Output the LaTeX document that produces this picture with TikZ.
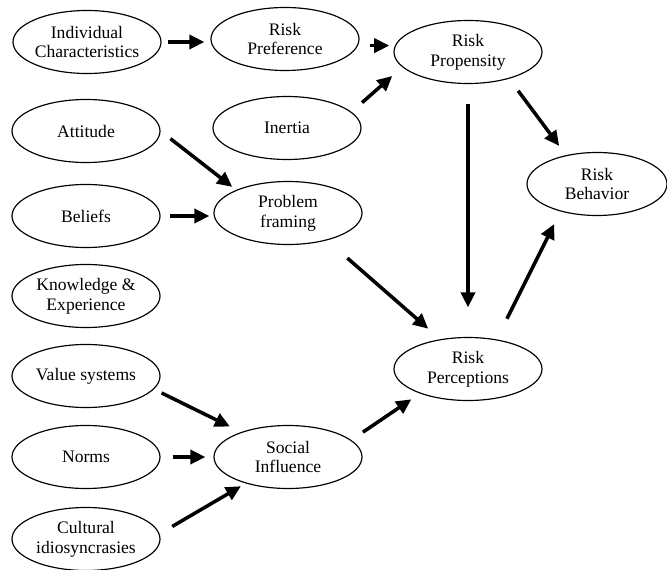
\documentclass[tikz,border=0pt]{standalone}
\usepackage{fontspec}
\setmainfont{Liberation Serif}
\usetikzlibrary{shapes.geometric, arrows.meta}

\begin{document}
\begin{tikzpicture}[x=0.03cm, y=-0.03cm,
        factor/.style={draw, ellipse, line width=1pt, minimum width=4.44cm, minimum height=1.89cm, inner sep=0pt, align=center, font=\fontsize{15}{17}\selectfont},
        link/.style={line width=3pt, -{Triangle[length=0.45cm, width=0.42cm]}}
    ]
        \useasboundingbox (0,0) rectangle (667,570);

        % Left column
        \node[factor] (ic) at (87,42) {Individual\\Characteristics};
        \node[factor] (att) at (86,131) {Attitude};
        \node[factor] (bel) at (86,216) {Beliefs};
        \node[factor] (ke) at (86,296) {Knowledge \&\\Experience};
        \node[factor] (vs) at (86,376) {Value systems};
        \node[factor] (norms) at (86,457) {Norms};
        \node[factor] (ci) at (86,539) {Cultural\\idiosyncrasies};

        % Middle column
        \node[factor] (rpref) at (285,39) {Risk\\Preference};
        \node[factor] (inertia) at (287,128) {Inertia};
        \node[factor] (pf) at (288,213) {Problem\\framing};
        \node[factor] (si) at (288,457) {Social\\Influence};

        % Right side
        \node[factor] (rprop) at (468,52) {Risk\\Propensity};
        \node[factor] (rperc) at (468,369) {Risk\\Perceptions};
        \node[factor, minimum width=4.2cm] (rbeh) at (597,184) {Risk\\Behavior};

        % Links
        \draw[link, shorten <=0.18cm, shorten >=0.18cm] (ic.east) -- (ic.east -| rpref.west);
        \draw[link, shorten <=0.3cm, shorten >=0.17cm] (rpref.east |- rprop.175) -- (rprop.175);
        \draw[link, shorten <=0.42cm, shorten >=0.4cm] (inertia.14) -- (rprop.193);
        \draw[link, shorten <=0.375cm, shorten >=0.15cm] (att.east) -- (pf.156);
        \draw[link, shorten <=0.27cm, shorten >=0.12cm] (bel.east) -- (bel.east -| pf.west);
        \draw[link, shorten <=0.81cm, shorten >=0.48cm] (pf.-35) -- (rperc.133);
        \draw[link, shorten <=0.585cm, shorten >=0.885cm] (rprop.south) -- (rperc.north);
        \draw[link, shorten <=0.45cm, shorten >=0.345cm] (rprop.-33) -- (rbeh.137);
        \draw[link, shorten <=0.69cm, shorten >=0.42cm] (rperc.46) -- (rbeh.217);
        \draw[link, shorten <=0.255cm, shorten >=0.375cm] (vs.-11) -- (si.152);
        \draw[link, shorten <=0.36cm, shorten >=0.24cm] (norms.east) -- (si.west);
        \draw[link, shorten <=0.44cm, shorten >=0.165cm] (ci.4) -- (si.212);
        \draw[link, shorten <=0.42cm, shorten >=0.31cm] (si.15) -- (rperc.207);

    \end{tikzpicture}
\end{document}
